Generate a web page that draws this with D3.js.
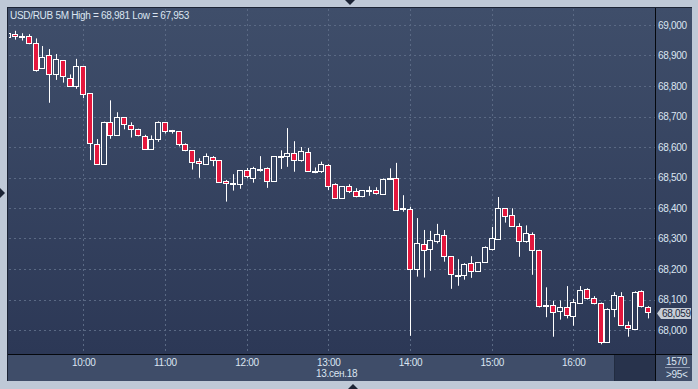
<!DOCTYPE html>
<html>
<head>
<meta charset="UTF-8">
<title>USD/RUB 5M</title>
<style>
body { margin:0; background:#bfc9d7; }
svg { display:block; }
text { font-family: "Liberation Sans", Arial, sans-serif; font-size:10px; fill:#dbe5f1; }
</style>
</head>
<body>
<svg width="698" height="389"></svg>
<script src="https://cdn.jsdelivr.net/npm/d3@7/dist/d3.min.js"></script>
<script>
// 5-minute candles, first one at 09:05, 13 Sep 2018
const opens  = [68960,68970,68962,68964,68940,68860,68901,68840,68884,68826,68801,68865,68776,68609,68543,68683,68638,68697,68671,68660,
                68635,68594,68625,68681,68655,68651,68609,68589,68553,68543,68566,68556,68489,68480,68479,68524,68499,68527,68530,68488,
                68569,68570,68579,68558,68583,68522,68522,68541,68478,68434,68471,68455,68438,68458,68458,68445,68496,68497,68399,68398,
                68201,68281,68264,68293,68310,68242,68181,68179,68219,68192,68224,68264,68299,68399,68376,68340,68293,68314,68261,68081,
                68083,68061,68074,68045,68088,68133,68104,68088,67962,68068,68110,68015,68002,68127,68074];
const highs  = [68976,68981,68973,68970,68956,68931,68921,68905,68884,68838,68889,68865,68776,68626,68683,68753,68714,68697,68681,68660,
                68640,68638,68684,68681,68656,68651,68612,68589,68563,68579,68570,68556,68492,68511,68524,68531,68535,68570,68533,68570,
                68589,68662,68619,68600,68597,68533,68552,68544,68481,68472,68478,68465,68458,68471,68468,68497,68530,68548,68442,68404,
                68367,68328,68325,68348,68328,68242,68232,68219,68242,68222,68274,68338,68436,68399,68399,68350,68343,68320,68263,68140,
                68096,68097,68144,68102,68144,68137,68111,68090,68071,68124,68124,68028,68127,68130,68078];
const lows   = [68958,68952,68949,68937,68847,68860,68745,68820,68811,68801,68791,68760,68557,68543,68543,68627,68638,68658,68631,68635,
                68592,68591,68617,68644,68644,68602,68586,68526,68499,68543,68537,68486,68421,68457,68463,68497,68483,68519,68466,68488,
                68528,68535,68519,68552,68522,68514,68515,68459,68430,68434,68449,68435,68435,68440,68444,68445,68492,68392,68388,67981,
                68175,68172,68194,68284,68224,68135,68145,68165,68171,68192,68222,68261,68297,68352,68340,68240,68286,68181,68074,68042,
                67978,68034,68038,68014,68088,68100,68084,67953,67962,68042,68015,67978,68002,68074,68038];
const closes = [68973,68963,68963,68942,68853,68894,68840,68888,68833,68801,68865,68773,68612,68543,68683,68638,68697,68674,68658,68638,
                68592,68625,68681,68651,68652,68609,68589,68550,68547,68570,68556,68486,68482,68482,68524,68504,68530,68529,68488,68570,
                68571,68579,68558,68586,68522,68520,68544,68473,68434,68472,68455,68438,68458,68460,68448,68494,68498,68392,68397,68199,
                68284,68261,68295,68314,68242,68183,68179,68215,68192,68222,68271,68301,68399,68373,68340,68293,68317,68261,68080,68079,
                68058,68074,68048,68091,68130,68104,68088,67962,68068,68114,68015,68006,68124,68078,68059];
const priceTicks = [68000,68100,68200,68300,68400,68500,68600,68700,68800,68900,69000];
const hourTicks = [10,11,12,13,14,15,16];
const dateLabel = "13.сен.18";
const title = "USD/RUB 5M High = 68,981 Low = 67,953";
const lastPrice = "68,059";
const barCount = "1570";
const visibleCount = ">95<";

const at = (h, m) => new Date(2018, 8, 13, h, m);
const candles = opens.map((o, i) => ({
  t: d3.timeMinute.offset(at(9, 5), 5 * i), o, h: highs[i], l: lows[i], c: closes[i]
}));

const svg = d3.select('svg');
const plot = { left: 9, top: 9, right: 655, bottom: 354 };
const panelRight = 692, panelBottom = 381;

const x = d3.scaleTime().domain([at(9, 0), at(17, 0)]).range([1.6, 655]);
const y = d3.scaleLinear().domain([68000, 69000]).range([330, 25]);

const defs = svg.append('defs');
const grad = defs.append('linearGradient').attr('id', 'bg').attr('gradientUnits', 'userSpaceOnUse')
  .attr('x1', 0).attr('y1', 8).attr('x2', 0).attr('y2', plot.bottom);
grad.append('stop').attr('offset', 0).attr('stop-color', '#3f4e6a');
grad.append('stop').attr('offset', 1).attr('stop-color', '#2c3856');
defs.append('clipPath').attr('id', 'clip').append('rect')
  .attr('x', plot.left).attr('y', plot.top)
  .attr('width', plot.right - plot.left).attr('height', plot.bottom - plot.top);

// panel
svg.append('rect').attr('x', 7).attr('y', 7).attr('width', panelRight - 7).attr('height', panelBottom - 7)
  .attr('fill', '#1c2435');
svg.append('rect').attr('x', 8).attr('y', 8).attr('width', panelRight - 8).attr('height', plot.bottom - 8)
  .attr('fill', 'url(#bg)');
svg.append('rect').attr('x', 8).attr('y', plot.bottom).attr('width', panelRight - 8).attr('height', panelBottom - plot.bottom)
  .attr('fill', '#3f4d69');
svg.append('rect').attr('x', 615).attr('y', plot.bottom).attr('width', plot.right - 615).attr('height', panelBottom - plot.bottom)
  .attr('fill', '#28334c');
svg.append('line').attr('x1', 614.5).attr('x2', 614.5).attr('y1', plot.bottom).attr('y2', panelBottom)
  .attr('stroke', '#222c40');

// grid
const grid = svg.append('g').attr('stroke', '#5a6984').attr('stroke-dasharray', '2,3').attr('stroke-width', 1);
grid.selectAll('.hg').data(priceTicks).join('line')
  .attr('x1', plot.left).attr('x2', plot.right)
  .attr('y1', d => Math.round(y(d)) + 0.5).attr('y2', d => Math.round(y(d)) + 0.5);
grid.selectAll('.vg').data(hourTicks).join('line')
  .attr('y1', plot.top).attr('y2', plot.bottom)
  .attr('x1', d => Math.round(x(at(d, 0))) + 0.5).attr('x2', d => Math.round(x(at(d, 0))) + 0.5);

// candles
const bw = 5;
const cg = svg.append('g').attr('clip-path', 'url(#clip)');
const cx = d => Math.round(x(d.t)) + 0.5;
const bodyTop = d => Math.round(y(Math.max(d.o, d.c))) + 0.5;
const bodyBot = d => Math.max(Math.round(y(Math.min(d.o, d.c))) + 0.5, bodyTop(d) + 1);
const k = cg.selectAll('g').data(candles).join('g');
k.append('line').attr('stroke', '#fff')
  .attr('x1', cx).attr('x2', cx).attr('y1', d => y(d.h)).attr('y2', bodyTop);
k.append('line').attr('stroke', '#fff')
  .attr('x1', cx).attr('x2', cx).attr('y1', bodyBot).attr('y2', d => y(d.l));
k.append('rect')
  .attr('x', d => cx(d) - 3).attr('width', bw)
  .attr('y', bodyTop).attr('height', d => bodyBot(d) - bodyTop(d))
  .attr('fill', d => d.c < d.o ? '#e4173d' : 'url(#bg)')
  .attr('stroke', '#fff').attr('stroke-width', 1);

// frame lines
svg.append('line').attr('x1', 8).attr('x2', panelRight).attr('y1', plot.bottom + 0.5).attr('y2', plot.bottom + 0.5)
  .attr('stroke', '#05080d');
svg.append('line').attr('x1', plot.right + 0.5).attr('x2', plot.right + 0.5).attr('y1', 8).attr('y2', panelBottom)
  .attr('stroke', '#05080d');

const styleText = g => g.selectAll('text').attr('fill', '#dbe5f1').attr('font-size', 10)
  .attr('font-family', '"Liberation Sans", Arial, sans-serif').attr('letter-spacing', -0.3);

// right price axis
const yAxis = d3.axisRight(y).tickValues(priceTicks).tickSize(0).tickPadding(3).tickFormat(d3.format(','));
svg.append('g').attr('transform', `translate(${plot.right},0)`).call(yAxis)
  .call(g => g.select('.domain').remove())
  .call(styleText);

// bottom time axis
const xAxis = d3.axisBottom(x).tickValues(hourTicks.map(h => at(h, 0))).tickSize(0).tickPadding(5)
  .tickFormat(d3.timeFormat('%H:%M'));
svg.append('g').attr('transform', `translate(0,${plot.bottom})`).call(xAxis)
  .call(g => g.select('.domain').remove())
  .call(styleText);
svg.append('text').attr('x', 316).attr('y', 377).attr('letter-spacing', -0.3).text(dateLabel);

// last price marker
const ly = Math.round(y(closes[closes.length - 1])) + 1.5;
svg.append('path')
  .attr('d', `M657,${ly} L661,${ly - 5.5} L691,${ly - 5.5} L691,${ly + 5.5} L661,${ly + 5.5} Z`)
  .attr('fill', '#c6ccd6');
svg.append('text').attr('x', 662).attr('y', ly + 3.5).style('fill', '#1b2538')
  .attr('letter-spacing', -0.3).text(lastPrice);

// counters
svg.append('text').attr('x', 687).attr('y', 365).attr('text-anchor', 'end').attr('letter-spacing', -0.3).text(barCount);
svg.append('line').attr('x1', 665).attr('x2', 690).attr('y1', 367.5).attr('y2', 367.5).attr('stroke', '#8e9ab0');
svg.append('text').attr('x', 666).attr('y', 378).attr('letter-spacing', -0.3).text(visibleCount);

// title
svg.append('text').attr('x', 10).attr('y', 19).attr('letter-spacing', -0.3).text(title);

// splitter handles
svg.append('path').attr('d', 'M345,0 L355,0 L350,5 Z').attr('fill', '#1c2435');
svg.append('path').attr('d', 'M0,188 L0,198 L5,193 Z').attr('fill', '#1c2435');
svg.append('path').attr('d', 'M348,389 L358,389 L353,384 Z').attr('fill', '#1c2435');
</script>
</body>
</html>
